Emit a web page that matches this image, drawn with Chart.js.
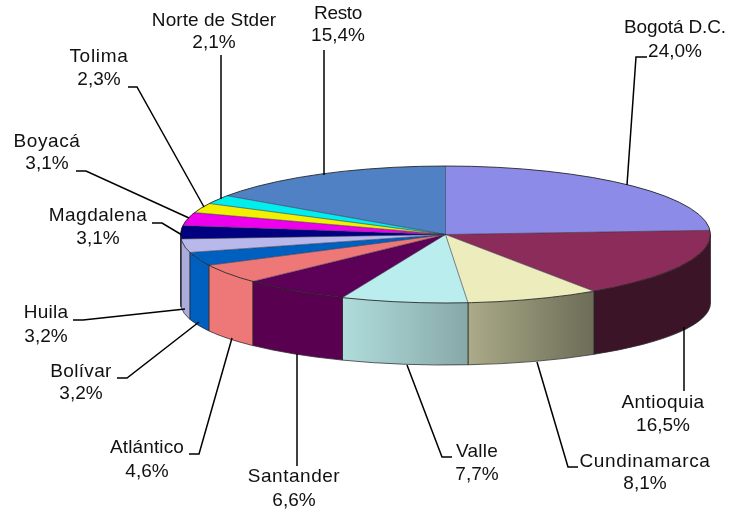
<!DOCTYPE html>
<html>
<head>
<meta charset="utf-8">
<style>html,body{margin:0;padding:0;background:#fff}canvas{display:block}</style>
<script src="https://cdn.jsdelivr.net/npm/chart.js@4/dist/chart.umd.min.js"></script>
</head>
<body>
<canvas id="c" width="729" height="510"></canvas>
<script>
const categories = ["Bogotá D.C.","Antioquia","Cundinamarca","Valle","Santander","Atlántico","Bolívar","Huila","Magdalena","Boyacá","Tolima","Norte de Stder","Resto"];
const shares = [24.0,16.5,8.1,7.7,6.6,4.6,3.2,3.2,3.1,3.1,2.3,2.1,15.4];
const shareLabels = ["24,0%","16,5%","8,1%","7,7%","6,6%","4,6%","3,2%","3,2%","3,1%","3,1%","2,3%","2,1%","15,4%"];
const topColors = ["#8C8CE8","#8C2C5A","#ECECBC","#BAEDED","#5C0058","#EE7777","#0060C0","#B8B8EA","#000080","#EE00EE","#F0F000","#00EEEE","#4F81C4"];
const wallLeft = ["#6464A8","#3C1428","#ABAB88","#B0DCDC","#5A0050","#EE7878","#0060C0","#ACACDC","#000080","#EE00EE","#F0F000","#00EEEE","#4F81C4"];
const wallRight = ["#6464A8","#3C1428","#6C6C58","#88A8A8","#5A0050","#EE7878","#0060C0","#ACACDC","#000080","#EE00EE","#F0F000","#00EEEE","#4F81C4"];
// label centre x, first and second text line centre y, name tracking
const labelX = [675,663,645,477,294,147,81,46,98,47,99,214,338];
const labelY1 = [28,403,462,452,477,448,372,313,216,142,57,21,14];
const labelY2 = [52,426,484,475,501,472,394,337,239,164,80,43,36];
const nameTracking = [-0.15,0.42,0.62,0.22,0.52,0.12,0.32,0.22,0.52,0.62,0.72,0.05,-0.35];
const shareTracking = 0;
const leaders = [
 [[647,57],[636,57],[627,185]],
 [[684,327],[684,391]],
 [[578,467],[568,467],[537,362]],
 [[452,457],[442,457],[407,365]],
 [[297,354],[297,466]],
 [[189,454],[199,454],[232,338]],
 [[117,378],[127,378],[199,322]],
 [[73,320],[83,320],[185,309]],
 [[152,223],[162,223],[182,235]],
 [[76,171],[86,171],[189,218]],
 [[128,87],[137,87],[204,207]],
 [[221,55],[221,199]],
 [[324,50],[324,175]]
];
const RX = 265, RY = 68.5, BOTTOM_RY = 62, BOTTOM_DROP = 68.5;
const fontSize = 19;

const pie3d = {
  id: 'pie3d',
  beforeDatasetDraw(chart) {
    const ctx = chart.ctx, arcs = chart.getDatasetMeta(0).data;
    const cx = arcs[0].x, cy = arcs[0].y, by = cy + BOTTOM_DROP;
    arcs.forEach((a, i) => {
      const s = Math.max(a.startAngle, 0), e = Math.min(a.endAngle, Math.PI);
      if (e <= s) return;
      ctx.beginPath();
      ctx.ellipse(cx, cy, RX, RY, 0, s, e);
      ctx.ellipse(cx, by, RX, BOTTOM_RY, 0, e, s, true);
      ctx.closePath();
      const x1 = cx + RX * Math.cos(s), x2 = cx + RX * Math.cos(e);
      const g = ctx.createLinearGradient(Math.min(x1, x2), 0, Math.max(x1, x2), 0);
      g.addColorStop(0, wallLeft[i]);
      g.addColorStop(1, wallRight[i]);
      ctx.fillStyle = g;
      ctx.fill();
      ctx.strokeStyle = 'rgba(40,40,40,0.75)';
      ctx.lineWidth = 1;
      ctx.beginPath();
      ctx.moveTo(cx + RX * Math.cos(s), cy + RY * Math.sin(s));
      ctx.lineTo(cx + RX * Math.cos(s), by + BOTTOM_RY * Math.sin(s));
      ctx.ellipse(cx, by, RX, BOTTOM_RY, 0, s, e);
      ctx.lineTo(cx + RX * Math.cos(e), cy + RY * Math.sin(e));
      ctx.stroke();
    });
    ctx.save();
    ctx.translate(cx, cy);
    ctx.scale(1, RY / RX);
    ctx.translate(-cx, -cy);
  },
  afterDatasetDraw(chart) {
    const ctx = chart.ctx, arcs = chart.getDatasetMeta(0).data;
    ctx.restore();
    const cx = arcs[0].x, cy = arcs[0].y;
    ctx.lineWidth = 1;
    arcs.forEach(a => {
      ctx.strokeStyle = 'rgba(50,50,70,0.6)';
      ctx.beginPath();
      ctx.moveTo(cx, cy);
      ctx.lineTo(cx + RX * Math.cos(a.startAngle), cy + RY * Math.sin(a.startAngle));
      ctx.stroke();
    });
    ctx.strokeStyle = 'rgba(30,30,30,0.85)';
    ctx.beginPath();
    ctx.ellipse(cx, cy, RX, RY, 0, 0, Math.PI * 2);
    ctx.stroke();
  },
  afterDraw(chart) {
    const ctx = chart.ctx;
    ctx.save();
    ctx.strokeStyle = '#000';
    ctx.lineWidth = 1.5;
    leaders.forEach(p => {
      ctx.beginPath();
      p.forEach((q, j) => j ? ctx.lineTo(q[0], q[1]) : ctx.moveTo(q[0], q[1]));
      ctx.stroke();
    });
    ctx.fillStyle = '#111';
    ctx.font = fontSize + 'px "Liberation Sans", Arial, sans-serif';
    ctx.textAlign = 'center';
    ctx.textBaseline = 'middle';
    categories.forEach((n, i) => {
      ctx.letterSpacing = nameTracking[i] + 'px';
      ctx.fillText(n, labelX[i], labelY1[i]);
      ctx.letterSpacing = shareTracking + 'px';
      ctx.fillText(shareLabels[i], labelX[i], labelY2[i]);
    });
    ctx.restore();
  }
};

new Chart(document.getElementById('c'), {
  type: 'pie',
  data: { labels: categories, datasets: [{ data: shares, backgroundColor: topColors, borderWidth: 0, hoverOffset: 0, clip: false }] },
  options: {
    responsive: false,
    animation: false,
    radius: RX,
    layout: { padding: { left: 162, bottom: 41 } },
    plugins: { legend: { display: false }, tooltip: { enabled: false } }
  },
  plugins: [pie3d]
});
</script>
</body>
</html>
